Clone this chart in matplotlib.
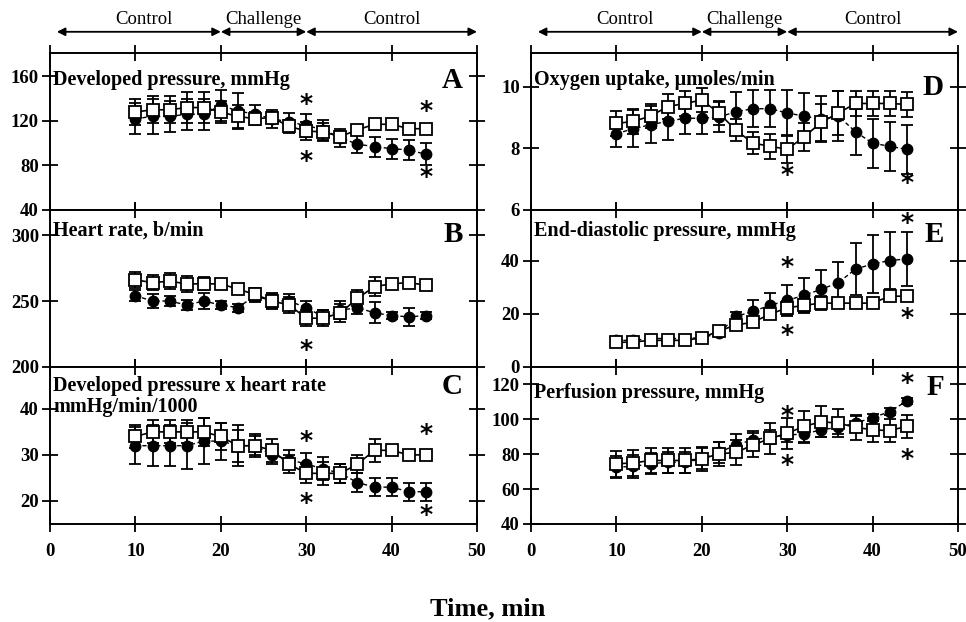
"""
Six-panel time course (control / challenge / control) with mean +/- error bars.
"""

import matplotlib
matplotlib.use("Agg")
import matplotlib.pyplot as plt
import matplotlib.transforms as mtransforms

plt.rcParams['font.family'] = ['Liberation Serif', 'DejaVu Serif']
plt.rcParams['font.weight'] = 'bold'

# sampling times, min
time = [10, 12, 14, 16, 18, 20, 22, 24, 26, 28, 30, 32, 34, 36, 38, 40, 42, 44]

phase_names = ["Control", "Challenge", "Control"]
phase_edges = [0.8, 20, 30, 50]

# A - developed pressure, mmHg
dp_open = [128, 130, 130, 132, 132, 128, 124, 122, 123, 115, 111, 110, 106, 112, 117, 117, 113, 113]
dp_open_err = [12, 12, 12, 14, 14, 10, 10, 6, 5, 6, 8, 8, 5, 4, 5, 4, 3, 3]
dp_fill = [122, 124, 124, 126, 126, 134, 129, 126, 122, 119, 116, 112, 105, 99, 97, 95, 94, 90]
dp_fill_err = [14, 16, 14, 14, 14, 14, 16, 8, 8, 8, 10, 9, 8, 8, 9, 9, 9, 10]

# B - heart rate, b/min
hr_open = [266, 264, 265, 263, 263, 263, 259, 255, 250, 247, 237, 237, 241, 252, 261, 263, 264, 262]
hr_open_err = [6, 6, 6, 6, 5, 3, 4, 5, 6, 6, 6, 6, 7, 6, 7, 3, 3, 3]
hr_fill = [254, 250, 250, 247, 250, 247, 245, 254, 250, 250, 245, 238, 243, 245, 241, 239, 238, 239]
hr_fill_err = [4, 5, 4, 4, 6, 3, 3, 5, 5, 5, 5, 5, 7, 5, 8, 3, 7, 3]

# C - developed pressure x heart rate, mmHg/min/1000
rpp_open = [34, 35, 35, 35, 35, 34, 32, 32, 31, 28, 26, 26, 26, 28, 31, 31, 30, 30]
rpp_open_err = [2.5, 2.5, 2.5, 2.5, 3, 3, 3.5, 2.5, 2.5, 2, 2, 2.5, 2, 2, 2.5, 1, 1, 1]
rpp_fill = [32, 32, 32, 32, 33, 33, 32, 32, 30, 29, 28, 27, 26, 24, 23, 23, 22, 22]
rpp_fill_err = [4, 4.5, 4.5, 5, 5, 4, 4.5, 2, 2, 2, 2.5, 2.5, 2, 2, 2, 2, 2, 2]

# D - oxygen uptake, umoles/min
o2_open = [8.81, 8.88, 9.05, 9.36, 9.46, 9.57, 9.15, 8.59, 8.17, 8.07, 7.97, 8.38, 8.85, 9.15, 9.46, 9.46, 9.46, 9.43]
o2_open_err = [0.4, 0.4, 0.4, 0.4, 0.4, 0.4, 0.4, 0.35, 0.35, 0.4, 0.45, 0.45, 0.6, 0.7, 0.4, 0.4, 0.4, 0.4]
o2_fill = [8.48, 8.64, 8.77, 8.88, 8.98, 8.98, 9.02, 9.19, 9.29, 9.29, 9.15, 9.05, 8.95, 9.05, 8.54, 8.17, 8.07, 7.97]
o2_fill_err = [0.45, 0.6, 0.6, 0.6, 0.5, 0.5, 0.5, 0.65, 0.6, 0.6, 0.75, 0.75, 0.75, 0.8, 0.75, 0.8, 0.8, 0.8]

# E - end-diastolic pressure, mmHg
edp_open = [9.2, 9.4, 10, 10, 10, 11, 13.5, 15.8, 16.8, 19.9, 22.2, 23.2, 24, 24, 24, 24, 26.6, 26.6]
edp_open_err = [0.8, 0.8, 0.8, 0.8, 0.8, 1, 1.5, 1.5, 1.5, 2, 2.5, 2.5, 2.5, 1, 1, 1, 1, 1]
edp_fill = [10, 10, 10.7, 10.7, 10.7, 11, 12.6, 19, 20.9, 23.2, 25, 27, 29.2, 31.7, 36.8, 38.7, 40, 40.6]
edp_fill_err = [0.5, 0.5, 0.5, 0.5, 0.5, 0.5, 1, 1.5, 4.4, 4.7, 5.8, 6.6, 7.2, 7.9, 9.8, 10.9, 10.8, 10.2]

# F - perfusion pressure, mmHg
pp_open = [74.5, 75, 76.4, 76.4, 76.4, 77.3, 80.2, 81, 85.3, 89, 92, 96, 98.6, 97.8, 95.4, 94, 93.5, 96]
pp_open_err = [7.5, 7.5, 7, 7, 7, 7, 7, 7, 7, 9, 9, 9, 9, 8, 7, 7, 6.5, 6.5]
pp_fill = [72.6, 73, 74.5, 75.4, 75.4, 77.3, 81, 85.3, 88.3, 89.7, 91, 91.6, 94, 95.4, 97.8, 101, 104.3, 110.5]
pp_fill_err = [6.5, 6.5, 6, 6, 6, 6, 6, 6, 5, 4, 4, 5, 4, 4, 4, 2, 2, 2]

# significance stars (time, value)
stars_a = [(30, 135), (30, 84), (44, 129), (44, 70)]
stars_b = [(30, 213)]
stars_c = [(30, 33.1), (30, 19.5), (44, 34.6), (44, 17)]
stars_d = [(30, 7.14), (44, 6.89)]
stars_e = [(30, 37.5), (30, 12), (44, 54), (44, 18.3)]
stars_f = [(30, 102), (30, 74), (44, 121), (44, 77)]

panels = [
    dict(letter="A", title="Developed pressure, mmHg", ylim=(40, 181), yticks=[40, 80, 120, 160],
         fill=dp_fill, fill_err=dp_fill_err, opn=dp_open, opn_err=dp_open_err, stars=stars_a,
         title_y=0.892, letter_y=0.911),
    dict(letter="B", title="Heart rate, b/min", ylim=(200, 319), yticks=[200, 250, 300],
         fill=hr_fill, fill_err=hr_fill_err, opn=hr_open, opn_err=hr_open_err, stars=stars_b,
         title_y=0.93, letter_y=0.93),
    dict(letter="C", title="Developed pressure x heart rate\nmmHg/min/1000", ylim=(15, 49.1),
         yticks=[20, 30, 40],
         fill=rpp_fill, fill_err=rpp_fill_err, opn=rpp_open, opn_err=rpp_open_err, stars=stars_c,
         title_y=0.943, letter_y=0.962),
    dict(letter="D", title="Oxygen uptake, \u03bcmoles/min", ylim=(6, 11.1), yticks=[6, 8, 10],
         fill=o2_fill, fill_err=o2_fill_err, opn=o2_open, opn_err=o2_open_err, stars=stars_d,
         title_y=0.892, letter_y=0.866),
    dict(letter="E", title="End-diastolic pressure, mmHg", ylim=(0, 59), yticks=[0, 20, 40],
         fill=edp_fill, fill_err=edp_fill_err, opn=edp_open, opn_err=edp_open_err, stars=stars_e,
         title_y=0.93, letter_y=0.93),
    dict(letter="F", title="Perfusion pressure, mmHg", ylim=(40, 130), yticks=[40, 60, 80, 100, 120],
         fill=pp_fill, fill_err=pp_fill_err, opn=pp_open, opn_err=pp_open_err, stars=stars_f,
         title_y=0.898, letter_y=0.955),
]

fig = plt.figure(figsize=(9.66, 6.22), dpi=100)

col_x = [0.0518, 0.5497]
ax_w = 0.442
top = 0.9148
ax_h = 0.2524

axes = []
for i, p in enumerate(panels):
    col, row = divmod(i, 3)
    ax = fig.add_axes([col_x[col], top - (row + 1) * ax_h, ax_w, ax_h])
    axes.append(ax)

    ax.errorbar(time, p["fill"], yerr=p["fill_err"], fmt='o', color='black', ms=7.5,
                ecolor='black', elinewidth=1.3, capsize=4, capthick=1.3, zorder=3,
                linestyle=(0, (3, 2)), linewidth=1.0)
    ax.errorbar(time, p["opn"], yerr=p["opn_err"], fmt='s', color='black', ms=8,
                mfc='white', mec='black', mew=1.3, ecolor='black', elinewidth=1.3,
                capsize=4, capthick=1.3, zorder=4, linestyle='-', linewidth=1.2)

    for sx, sy in p["stars"]:
        ax.text(sx, sy, "*", ha='center', va='center', fontsize=18, fontweight='bold',
                family='DejaVu Sans', zorder=5)

    ax.set_xlim(0, 50)
    ax.set_ylim(*p["ylim"])
    ax.set_xticks([0, 10, 20, 30, 40, 50])
    ax.set_yticks(p["yticks"])
    ax.tick_params(direction='inout', length=12, width=1.3, top=True, right=True,
                   labelsize=13.5, pad=2)
    for s in ax.spines.values():
        s.set_linewidth(1.4)
    if row < 2:
        ax.tick_params(labelbottom=False)
    else:
        ax.tick_params(axis='x', pad=8)
    for lab in ax.get_xticklabels() + ax.get_yticklabels():
        lab.set_fontweight('bold')

    ax.text(0.008, p["title_y"], p["title"], transform=ax.transAxes, ha='left', va='top',
            fontsize=14.5, fontweight='bold', linespacing=1.05)
    ax.text(0.967, p["letter_y"], p["letter"], transform=ax.transAxes, ha='right', va='top',
            fontsize=21, fontweight='bold')

    # phase arrows above the top panels
    if row == 0:
        trans = mtransforms.blended_transform_factory(ax.transData, ax.transAxes)
        for name, x0, x1 in zip(phase_names, phase_edges[:-1], phase_edges[1:]):
            ax.annotate("", xy=(x1, 1.135), xytext=(x0, 1.135), xycoords=trans,
                        textcoords=trans, annotation_clip=False,
                        arrowprops=dict(arrowstyle='<|-|>', color='black', lw=1.3,
                                        shrinkA=0, shrinkB=0, mutation_scale=12))
            ax.text((x0 + x1) / 2 + (0.6 if name == "Control" and x0 < 1 else 0), 1.16,
                    name, transform=trans, ha='center', va='bottom', fontsize=13.5,
                    fontweight='normal')

fig.text(0.505, 0.021, "Time, min", ha='center', va='center', fontsize=19, fontweight='bold')

fig.savefig("out.png", dpi=100)
